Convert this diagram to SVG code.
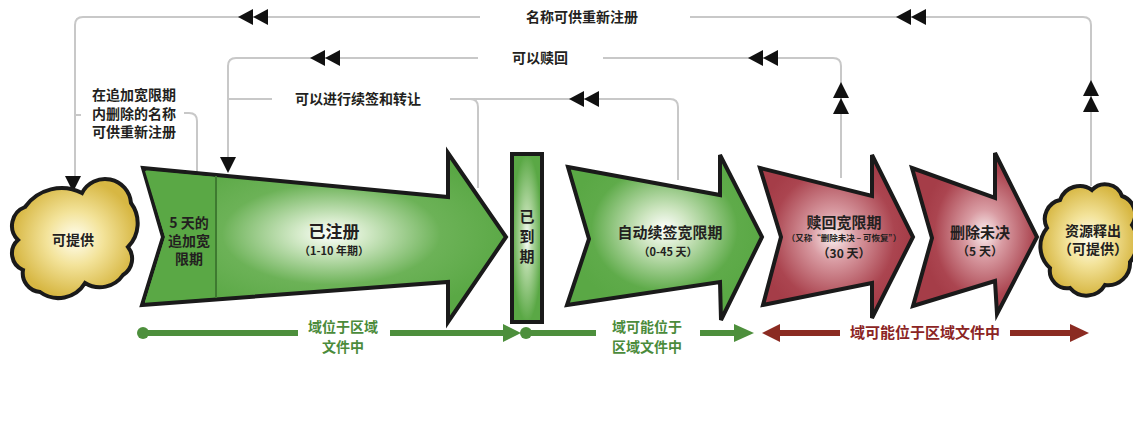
<svg xmlns="http://www.w3.org/2000/svg" xmlns:xlink="http://www.w3.org/1999/xlink" width="1133" height="445" viewBox="0 0 1133 445">
<style>
.conn{stroke:#c8c8c8;stroke-width:2;fill:none}
.ah{fill:#111}
.t{font-family:"Noto Sans CJK SC","Liberation Sans",sans-serif;font-weight:bold;fill:#231f20;text-anchor:middle}
.shape{stroke:#1a1a1a;stroke-width:4;stroke-linejoin:miter}
.gl{stroke:#4d8f3c;stroke-width:6;fill:none}
.rl{stroke:#8b2b22;stroke-width:6;fill:none}
.gt{font-family:"Noto Sans CJK SC","Liberation Sans",sans-serif;font-weight:bold;fill:#4b8b3b;text-anchor:middle;font-size:14px}
.rt{font-family:"Noto Sans CJK SC","Liberation Sans",sans-serif;font-weight:bold;fill:#8b2424;text-anchor:middle;font-size:15px}
</style>
<defs>
<radialGradient id="gGreen" cx="0.52" cy="0.48" r="0.5">
<stop offset="0" stop-color="#ffffff"/>
<stop offset="0.18" stop-color="#d6ebcb"/>
<stop offset="0.6" stop-color="#6cb257"/>
<stop offset="1" stop-color="#5aa845"/>
</radialGradient>
<radialGradient id="gGreen2" cx="0.5" cy="0.45" r="0.5">
<stop offset="0" stop-color="#ffffff"/>
<stop offset="0.25" stop-color="#cfe6c2"/>
<stop offset="0.75" stop-color="#5fab4a"/>
<stop offset="1" stop-color="#5aa845"/>
</radialGradient>
<radialGradient id="gBar" cx="0.5" cy="0.5" r="0.5">
<stop offset="0" stop-color="#ffffff"/>
<stop offset="0.35" stop-color="#b5d9a5"/>
<stop offset="1" stop-color="#5aa845"/>
</radialGradient>
<radialGradient id="gRed" cx="0.48" cy="0.5" r="0.5">
<stop offset="0" stop-color="#fbf1f1"/>
<stop offset="0.3" stop-color="#d99ca3"/>
<stop offset="0.8" stop-color="#ab4550"/>
<stop offset="1" stop-color="#a53d48"/>
</radialGradient>
<radialGradient id="gRed2" cx="0.58" cy="0.5" r="0.5">
<stop offset="0" stop-color="#fbf1f1"/>
<stop offset="0.3" stop-color="#d99ca3"/>
<stop offset="0.8" stop-color="#ab4550"/>
<stop offset="1" stop-color="#a53d48"/>
</radialGradient>
<radialGradient id="gCloud" cx="0.5" cy="0.5" r="0.5">
<stop offset="0" stop-color="#fffef0"/>
<stop offset="0.45" stop-color="#f3e39a"/>
<stop offset="1" stop-color="#d7b743"/>
</radialGradient>
<g id="dblL"><polygon points="-15,0 0,-8 0,8"/><polygon points="0,0 15,-8 15,8"/></g>
<g id="dblU"><polygon points="0,-16 -8,0 8,0"/><polygon points="0,0 -8,16 8,16"/></g>
</defs>

<g id="connectors">
<path class="conn" d="M75 180 V25 Q75 17 83 17 H480"/>
<path class="conn" d="M690 17 H1083 Q1091 17 1091 25 V186"/>
<path class="conn" d="M228 160 V66 Q228 58 236 58 H478"/>
<path class="conn" d="M603 58 H833 Q841 58 841 66 V178"/>
<path class="conn" d="M228 99 H272"/>
<path class="conn" d="M450 99 H670 Q678 99 678 107 V180"/>
<path class="conn" d="M470 99 Q478 99 478 107 V188"/>
<path class="conn" d="M197 172 V121 Q197 113 189 113 H184"/>
<path class="conn" d="M75 115 H81"/>
<g class="ah">
<use xlink:href="#dblL" x="253" y="17"/>
<use xlink:href="#dblL" x="911" y="17"/>
<use xlink:href="#dblL" x="325" y="58"/>
<use xlink:href="#dblL" x="763" y="58"/>
<use xlink:href="#dblL" x="584" y="99"/>
<use xlink:href="#dblU" x="841" y="98"/>
<use xlink:href="#dblU" x="1091" y="96"/>
<polygon points="65,176 81,176 73,192"/>
<polygon points="220,157 236,157 228,173"/>
</g>
<path class="gl" d="M143 333 H298 M390 333 H506"/>
<circle cx="143" cy="333" r="6" fill="#4d8f3c"/>
<polygon points="503,324 521,333 503,342" fill="#4d8f3c"/>
<circle cx="526" cy="333" r="6" fill="#4d8f3c"/>
<path class="gl" d="M526 333 H596 M700 333 H737"/>
<polygon points="734,324 754,333 734,342" fill="#4d8f3c"/>
<path class="rl" d="M776 333 H840 M1010 333 H1073"/>
<polygon points="780,324 762,333 780,342" fill="#8b2b22"/>
<polygon points="1070,324 1089,333 1070,342" fill="#8b2b22"/>
</g>

<g id="labels">
<text class="t" font-size="14" x="582" y="22">名称可供重新注册</text>
<text class="t" font-size="14" x="540" y="63">可以赎回</text>
<text class="t" font-size="14" x="358" y="104">可以进行续签和转让</text>
<text class="t" font-size="14" x="134" y="100">在追加宽限期</text>
<text class="t" font-size="14" x="134" y="119">内删除的名称</text>
<text class="t" font-size="14" x="134" y="137">可供重新注册</text>
<text class="gt" x="343" y="332">域位于区域</text>
<text class="gt" x="343" y="352">文件中</text>
<text class="gt" x="647" y="332">域可能位于</text>
<text class="gt" x="647" y="352">区域文件中</text>
<text class="rt" x="925" y="338">域可能位于区域文件中</text>
</g>

<g id="node-available">
<path class="shape" fill="url(#gCloud)" stroke-width="3.5" d="M25 207 A45 45 0 0 1 82 193 A26 26 0 0 1 131 203 A34 34 0 0 1 128 247 A19 19 0 0 1 123 275 A28 28 0 0 1 85 283 A31 31 0 0 1 40 292 A19 19 0 0 1 23 270 A18 18 0 0 1 18 240 A20 20 0 0 1 25 207 Z"/>
<text class="t" font-size="14" x="73" y="245">可提供</text>
</g>

<g id="node-registered">
<polygon class="shape" fill="url(#gGreen)" points="143,168 448,197 448,153 506,237 448,322 448,282 142,305 163,237"/>
<path d="M145 171 L215 177 L215 297 L145 302 L165 237 Z" fill="#5aa845"/>
<path d="M216 176 V298" stroke="#3e7a30" stroke-width="2"/>
<text class="t" font-size="14" x="189" y="228">5 天的</text>
<text class="t" font-size="14" x="189" y="246">追加宽</text>
<text class="t" font-size="14" x="189" y="264">限期</text>
<text class="t" font-size="17" x="334" y="238">已注册</text>
<text class="t" font-size="11" x="334" y="255">（1-10 年期）</text>
</g>

<g id="node-expired">
<rect class="shape" x="512" y="154" width="30" height="168" fill="url(#gBar)" stroke-width="3.5"/>
<text class="t" font-size="15" x="527" y="222">已</text>
<text class="t" font-size="15" x="527" y="242">到</text>
<text class="t" font-size="15" x="527" y="262">期</text>
</g>

<g id="node-autorenew">
<polygon class="shape" fill="url(#gGreen2)" points="568,167 720,195 720,155 762,237 721,320 720,282 567,305 589,239"/>
<text class="t" font-size="15" x="670" y="238">自动续签宽限期</text>
<text class="t" font-size="11" x="668" y="256">（0-45 天）</text>
</g>

<g id="node-redemption">
<polygon class="shape" fill="url(#gRed)" points="760,168 872,196 872,155 913,237 872,318 872,283 763,305 781,237"/>
<text class="t" font-size="15" x="844" y="228">赎回宽限期</text>
<text class="t" font-size="8.5" x="844" y="241">（又称“删除未决 – 可恢复”）</text>
<text class="t" font-size="12" x="844" y="258">（30 天）</text>
</g>

<g id="node-pending">
<polygon class="shape" fill="url(#gRed2)" points="912,168 995,198 995,153 1037,237 997,314 995,281 913,306 932,238"/>
<text class="t" font-size="15" x="980" y="238">删除未决</text>
<text class="t" font-size="12" x="980" y="256">（5 天）</text>
</g>

<g id="node-released">
<path class="shape" fill="url(#gCloud)" stroke-width="3.5" d="M1060 200 A21 21 0 0 1 1092 190 A18 18 0 0 1 1122 196 A19.5 19.5 0 0 1 1132 225 A31 31 0 0 1 1130 262 A22 22 0 0 1 1105 285 A21.5 21.5 0 0 1 1070 288 A17.5 17.5 0 0 1 1050 268 A29 29 0 0 1 1047 228 A19.5 19.5 0 0 1 1060 200 Z"/>
<text class="t" font-size="14" x="1093" y="236">资源释出</text>
<text class="t" font-size="14" x="1093" y="254">（可提供）</text>
</g>
</svg>
